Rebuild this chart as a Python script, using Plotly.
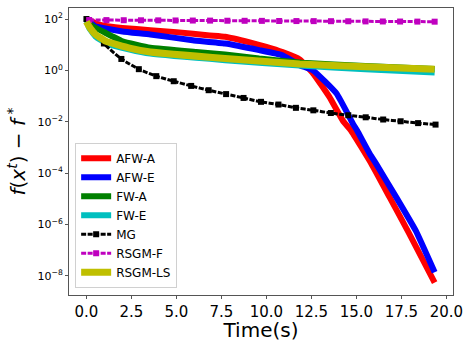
import plotly.graph_objects as go

# ---------------- data ----------------
t_afw_a = [0.0, 0.5, 0.9, 2.0, 3.55, 5.0, 6.85, 7.7, 9.08, 10.0, 10.9, 11.85, 12.6, 13.5, 14.25,
           14.7, 15.84, 16.85, 17.9, 19.35]
v_afw_a = [100, 69, 56, 45, 37, 31, 23, 20.4, 12.3, 8.3, 5.2, 2.7, 0.76, 0.093, 0.011,
           4.6e-3, 2.3e-4, 1.15e-5, 5.0e-7, 5.5e-9]

t_afw_e = [0.0, 0.5, 0.9, 2.0, 3.55, 5.9, 7.7, 9.6, 10.9, 11.85, 12.6, 13.9, 14.8, 15.04,
           15.75, 16.1, 17.22, 18.3, 19.35]
v_afw_e = [100, 51, 45, 33, 25, 15, 11.2, 6.2, 3.9, 1.6, 1.0, 0.126, 8.7e-3, 4.6e-3,
           5.6e-4, 2.3e-4, 1.15e-5, 5.8e-7, 1.4e-8]

t_fw_a = [0.0, 0.3, 0.9, 2.0, 3.55, 6.1, 7.7, 9.6, 12.0, 15.5, 19.35]
v_fw_a = [100, 55, 33, 13.5, 7.6, 5.2, 4.2, 2.9, 2.0, 1.5, 1.15]

t_fw_e = [0.0, 0.15, 0.5, 1.1, 2.4, 3.55, 7.7, 11.85, 15.5, 19.35]
v_fw_e = [100, 45, 21, 11.5, 6.5, 4.5, 2.5, 1.55, 1.1, 0.83]

t_mg = [0.0, 0.97, 1.94, 2.91, 3.88, 4.85, 5.82, 6.79, 7.76, 8.73, 9.7, 10.67, 11.64,
        12.61, 13.58, 14.55, 15.52, 16.49, 17.46, 18.43, 19.4]
v_mg = [100, 11.2, 2.8, 1.12, 0.60, 0.38, 0.25, 0.17, 0.12, 0.085, 0.060, 0.047, 0.035,
        0.028, 0.022, 0.018, 0.015, 0.0123, 0.0105, 0.0089, 0.0078]

t_rsgm_f = [0.15, 1.11, 2.07, 3.03, 3.99, 4.95, 5.91, 6.87, 7.83, 8.79, 9.75, 10.71, 11.67,
            12.63, 13.59, 14.55, 15.51, 16.47, 17.43, 18.39, 19.35]
v_rsgm_f = [92, 91, 90, 89.5, 89, 88, 87.5, 87, 86, 85.5, 85, 84, 83.5, 83, 82.5, 82,
            81, 80.5, 80, 79.5, 79]

t_rsgm_ls = [0.0, 0.15, 0.5, 1.1, 2.4, 3.55, 7.7, 11.85, 15.5, 19.35]
v_rsgm_ls = [80, 51, 25, 13.5, 7.4, 5.2, 2.9, 1.78, 1.4, 1.12]

x_ticks = [0, 2.5, 5, 7.5, 10, 12.5, 15, 17.5, 20]
y_ticks = [1e2, 1e0, 1e-2, 1e-4, 1e-6, 1e-8]
y_tick_text = ["10<sup>2</sup>", "10<sup>0</sup>", "10<sup>−2</sup>", "10<sup>−4</sup>",
               "10<sup>−6</sup>", "10<sup>−8</sup>"]

FONT = "DejaVu Sans"

fig = go.Figure()

def thick(name, t, v, color, width=6):
    fig.add_trace(go.Scatter(x=t, y=v, name=name, mode="lines",
                             line=dict(color=color, width=width, shape="spline", smoothing=0.35)))

thick("AFW-A", t_afw_a, v_afw_a, "#ff0000")
thick("AFW-E", t_afw_e, v_afw_e, "#0000ff")
thick("FW-A", t_fw_a, v_fw_a, "#008000")
thick("FW-E", t_fw_e, v_fw_e, "#00bfbf")
fig.add_trace(go.Scatter(x=t_mg, y=v_mg, name="MG", mode="lines+markers",
                         line=dict(color="#000000", width=3, dash="5px,1.5px", shape="spline", smoothing=0.5),
                         marker=dict(symbol="square", size=6, color="#000000")))
fig.add_trace(go.Scatter(x=t_rsgm_f, y=v_rsgm_f, name="RSGM-F", mode="lines+markers",
                         line=dict(color="#bf00bf", width=3, dash="5px,1.5px"),
                         marker=dict(symbol="square", size=6, color="#bf00bf")))
thick("RSGM-LS", t_rsgm_ls, v_rsgm_ls, "#bfbf00", width=7)

axis_common = dict(showgrid=False, zeroline=False, showline=True, linecolor="#555",
                   linewidth=1, mirror=True, ticks="outside", ticklen=3, tickcolor="#555",
                   automargin=False)

fig.update_layout(
    width=465, height=342,
    margin=dict(l=69, r=12, t=8, b=47),
    paper_bgcolor="white", plot_bgcolor="white",
    font=dict(family=FONT, color="#000"),
    showlegend=True,
    legend=dict(x=0.016, y=0.025, xanchor="left", yanchor="bottom",
                bgcolor="rgba(255,255,255,0.8)", bordercolor="#d0d0d0", borderwidth=1,
                font=dict(family=FONT, size=12), tracegroupgap=0, itemwidth=30),
    xaxis=dict(range=[-0.97, 20.37], tickvals=x_ticks,
               ticktext=[f"{v:.1f}" for v in x_ticks], tickfont=dict(size=15),
               title=dict(text="Time(s)", font=dict(size=20), standoff=9), **axis_common),
    yaxis=dict(type="log", range=[-8.74, 2.43], tickvals=y_ticks, ticktext=y_tick_text,
               tickfont=dict(size=11),
               title=dict(text="<i>f</i>(<i>x</i><sup><i>t</i></sup>) − <i>f</i><sup> *</sup>",
                          font=dict(size=20), standoff=6), **axis_common),
)

fig.write_html("out.html", config={"displayModeBar": False},
               post_script="document.body.style.margin='0px';")
